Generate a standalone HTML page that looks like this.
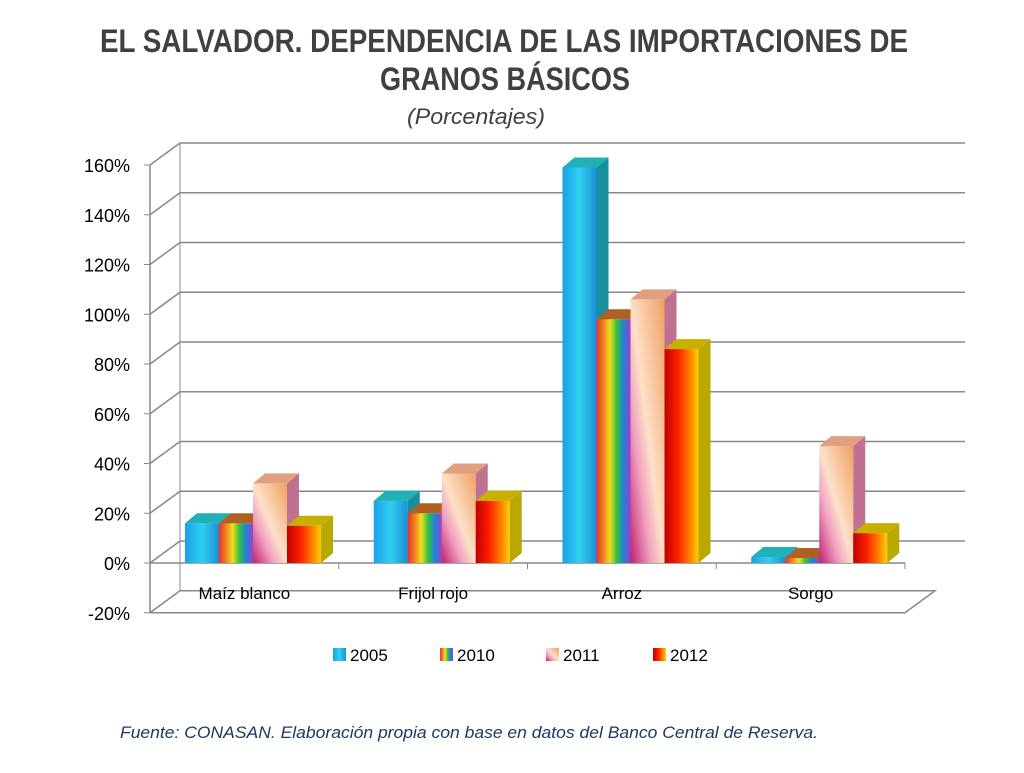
<!DOCTYPE html>
<html><head><meta charset="utf-8"><style>
body{margin:0;background:#fff;width:1024px;height:768px;overflow:hidden;font-family:"Liberation Sans",sans-serif}
</style></head><body>
<svg width="1024" height="768">
<defs>
<linearGradient id="g2005" x1="0" x2="1"><stop offset="0" stop-color="#1aa0e8"/><stop offset="0.5" stop-color="#2fd0ee"/><stop offset="1" stop-color="#1a8fd8"/></linearGradient>
<linearGradient id="g2010" x1="0" x2="1"><stop offset="0" stop-color="#e83030"/><stop offset="0.2" stop-color="#f08020"/><stop offset="0.4" stop-color="#f0e020"/><stop offset="0.6" stop-color="#30c040"/><stop offset="0.8" stop-color="#2080e0"/><stop offset="1" stop-color="#a040c0"/></linearGradient>
<linearGradient id="g2011" x1="0" y1="1" x2="1" y2="0"><stop offset="0" stop-color="#c02070"/><stop offset="0.3" stop-color="#f0a0c0"/><stop offset="0.5" stop-color="#fde0c8"/><stop offset="1" stop-color="#f0a060"/></linearGradient>
<linearGradient id="g2012" x1="0" x2="1"><stop offset="0" stop-color="#c00000"/><stop offset="0.4" stop-color="#ff2000"/><stop offset="0.8" stop-color="#ff9000"/><stop offset="1" stop-color="#ffd000"/></linearGradient>
</defs>
<text x="100" y="52" textLength="808" lengthAdjust="spacingAndGlyphs" font-size="32" font-weight="bold" fill="#404040">EL SALVADOR. DEPENDENCIA DE LAS IMPORTACIONES DE</text>
<text x="380" y="90" textLength="250" lengthAdjust="spacingAndGlyphs" font-size="32" font-weight="bold" fill="#404040">GRANOS BÁSICOS</text>
<text x="407" y="124" textLength="138" lengthAdjust="spacingAndGlyphs" font-size="22" font-style="italic" fill="#404040">(Porcentajes)</text>
<g id="grid"></g><g id="bars"></g><g id="legend"></g>
<text x="120" y="738" textLength="698" lengthAdjust="spacingAndGlyphs" font-size="17" font-style="italic" fill="#1f3864">Fuente: CONASAN. Elaboración propia con base en datos del Banco Central de Reserva.</text>
</svg>
<script>
const categories=["Maíz blanco","Frijol rojo","Arroz","Sorgo"];
const years=["2005","2010","2011","2012"];
const s2005=[16,25,159,2.4];
const s2010=[16,20,98,2];
const s2011=[32,36,106,47];
const s2012=[15,25,86,12];
const ticks=[-20,0,20,40,60,80,100,120,140,160];
const series=[s2005,s2010,s2011,s2012];
const NS="http://www.w3.org/2000/svg";
const X0=150,X1=905,DX=30,DY=-22;
function y(v){return 563-v*49.75/20;}
function mk(t,a,p){const e=document.createElementNS(NS,t);for(const k in a)e.setAttribute(k,a[k]);(p||document.getElementById('grid')).appendChild(e);return e;}
mk('line',{x1:X0+DX,y1:y(160)+DY,x2:X0+DX,y2:y(-20)+DY,stroke:'#888'});
ticks.forEach(t=>{
 const yy=y(t);
 const g=mk('g',{});
 
 
 if(t===-20){
  mk('polyline',{points:`${X0},${yy} ${X0+DX},${yy+DY} ${X1+DX},${yy+DY} ${X1},${yy} ${X0},${yy}`,fill:'none',stroke:'#888','stroke-width':1.5},g);
 }else{
  mk('polyline',{points:`${X0},${yy} ${X0+DX},${yy+DY} ${X1+60},${yy+DY}`,fill:'none',stroke:'#888','stroke-width':1.5},g);
 }
 mk('line',{x1:X0-6,y1:yy,x2:X0,y2:yy,stroke:'#888'},g);
 const tx=mk('text',{x:X0-20,y:yy+7,'text-anchor':'end','font-size':18,fill:'#000'},g);
 tx.textContent=t+'%';
 
 
});
mk('line',{x1:X0,y1:y(160),x2:X0,y2:y(-20),stroke:'#888','stroke-width':1.5});
mk('line',{x1:X0,y1:y(0),x2:X1,y2:y(0),stroke:'#888','stroke-width':1.5});
const cw=(X1-X0)/categories.length;
categories.forEach((c,i)=>{
 mk('line',{x1:X0+cw*(i+1),y1:y(0),x2:X0+cw*(i+1),y2:y(0)+6,stroke:'#888'});
 const t=mk('text',{x:X0+cw*(i+0.5),y:y(0)+36,'text-anchor':'middle','font-size':17});
 t.textContent=c;
 
 
});
const bars=document.getElementById('bars');
const sideCol=['#1890a0','#7a3a8a','#c07090','#b8a800'],topCol=['#20b0b8','#b06020','#e0a080','#c8b000'];
const bw=34,bdx=12,bdy=-10;
categories.forEach((c,i)=>{
 series.forEach((s,j)=>{
  const x=X0+cw*i+35+j*bw, top=y(s[i]), bot=y(0);
  const g=mk('g',{},bars);
  
  
  mk('rect',{x:x,y:top,width:bw,height:bot-top,fill:`url(#g${years[j]})`},g);
  mk('polygon',{points:`${x+bw},${top} ${x+bw+bdx},${top+bdy} ${x+bw+bdx},${bot+bdy} ${x+bw},${bot}`,fill:sideCol[j]},g);
  mk('polygon',{points:`${x},${top} ${x+bdx},${top+bdy} ${x+bw+bdx},${top+bdy} ${x+bw},${top}`,fill:topCol[j]},g);
 });
});
const leg=document.getElementById('legend');
const lx=[333,440,546,653];
years.forEach((yname,j)=>{
 const g=mk('g',{},leg);
 
 
 mk('rect',{x:lx[j],y:648,width:13,height:13,fill:`url(#g${yname})`},g);
 const t=mk('text',{x:lx[j]+17,y:661,'font-size':17},g);
 t.textContent=yname;
});
</script>
</body></html>
